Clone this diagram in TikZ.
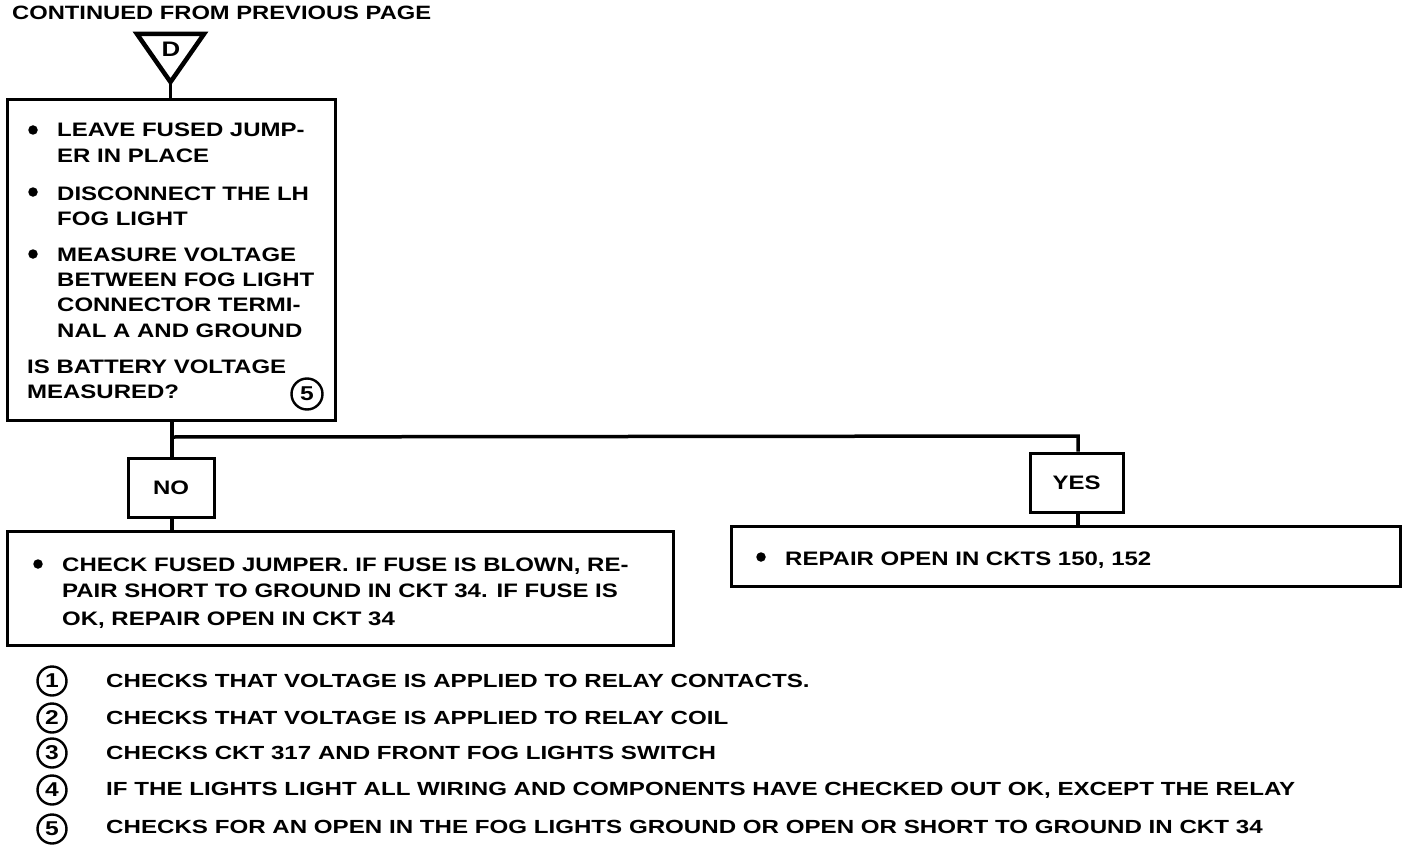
\documentclass[tikz,border=0pt]{standalone}
\usepackage{fontspec}
\setmainfont{Liberation Sans}
\newfontfamily\bxf{Liberation Sans Bold}[FakeStretch=1.23]
\newfontfamily\ntf{Liberation Sans Bold}[FakeStretch=1.27]
\begin{document}
\begin{tikzpicture}[x=1pt,y=-1pt,
  txt/.style={anchor=base west,inner sep=0pt,font=\bxf\fontsize{19.5}{24}\selectfont},
  note/.style={anchor=base west,inner sep=0pt,font=\ntf\fontsize{19}{24}\selectfont},
  boxl/.style={draw,line width=3pt},
  conn/.style={line width=3.5pt},
  bul/.style={circle,fill,inner sep=0pt,minimum size=9.5pt},
  num/.style={circle,draw,line width=2.4pt,inner sep=0pt,minimum size=29pt,font=\bxf\fontsize{20}{22}\selectfont}]
\useasboundingbox (0,0) rectangle (1408,848);

% title
\node[txt,font=\bxf\fontsize{19.3}{22}\selectfont] (title) at (12,20) {CONTINUED FROM PREVIOUS PAGE};

% off-page connector triangle
\coordinate (tl) at (137,34);
\coordinate (tr) at (204,34);
\coordinate (tap) at (170.5,82);
\draw[line width=4.5pt,line join=miter] (tl) -- (tr) -- (tap) -- cycle;
\node[inner sep=0pt,font=\bxf\fontsize{21}{22}\selectfont] (D) at (171,49) {D};

% main box
\node[boxl,minimum width=328pt,minimum height=321pt,inner sep=0pt] (main) at (171,260) {};
\draw[conn] (tap) -- (main.north -| tap);

\node[bul] (b1) at (33,130) {};
\node[txt] (m1) at (57,137) {LEAVE FUSED JUMP-};
\node[txt] (m2) at (57,163) {ER IN PLACE};
\node[bul] (b2) at (33,192) {};
\node[txt] (m3) at (57,200) {DISCONNECT THE LH};
\node[txt] (m4) at (57,225) {FOG LIGHT};
\node[bul] (b3) at (33,254) {};
\node[txt] (m5) at (57,261) {MEASURE VOLTAGE};
\node[txt] (m6) at (57,286) {BETWEEN FOG LIGHT};
\node[txt] (m7) at (57,311) {CONNECTOR TERMI-};
\node[txt] (m8) at (57,337) {NAL A AND GROUND};
\node[txt] (m9) at (27,373) {IS BATTERY VOLTAGE};
\node[txt] (m10) at (27,398) {MEASURED?};
\node[num,minimum size=31pt] (c5) at (307,394) {5};

% branch
\coordinate (split) at (172,437);
\coordinate (ycorner) at (1078,436);
\node[boxl,minimum width=86pt,minimum height=59pt,inner sep=0pt,font=\bxf\fontsize{19.5}{24}\selectfont] (no) at (171,488) {NO};
\node[boxl,minimum width=93pt,minimum height=59pt,inner sep=0pt,font=\bxf\fontsize{19.5}{24}\selectfont] (yes) at (1076.5,482.5) {YES};
\draw[conn] (main.south -| split) -- (split) -- (no.north -| split);
\draw[conn] (split) -- (ycorner) -- (yes.north -| ycorner);

% NO result
\node[boxl,minimum width=666pt,minimum height=114pt,inner sep=0pt] (nores) at (340,588) {};
\draw[conn] (no.south -| split) -- (nores.north -| split);
\node[bul] (b4) at (38,564) {};
\node[txt] (n1) at (62,571) {CHECK FUSED JUMPER. IF FUSE IS BLOWN, RE-};
\node[txt] (n2) at (62,597) {PAIR SHORT TO GROUND IN CKT 34. IF FUSE IS};
\node[txt] (n3) at (62,625) {OK, REPAIR OPEN IN CKT 34};

% YES result
\node[boxl,minimum width=669pt,minimum height=60pt,inner sep=0pt] (yesres) at (1065.5,556) {};
\draw[conn] (yes.south -| ycorner) -- (yesres.north -| ycorner);
\node[bul] (b5) at (761,557) {};
\node[txt] (y1) at (785,565) {REPAIR OPEN IN CKTS 150, 152};

% footnotes
\node[num] (f1) at (52,681) {1};
\node[note] (t1) at (106,687) {CHECKS THAT VOLTAGE IS APPLIED TO RELAY CONTACTS.};
\node[num] (f2) at (52,718) {2};
\node[note] (t2) at (106,724) {CHECKS THAT VOLTAGE IS APPLIED TO RELAY COIL};
\node[num] (f3) at (52,753) {3};
\node[note] (t3) at (106,759) {CHECKS CKT 317 AND FRONT FOG LIGHTS SWITCH};
\node[num] (f4) at (52,790) {4};
\node[note] (t4) at (106,795) {IF THE LIGHTS LIGHT ALL WIRING AND COMPONENTS HAVE CHECKED OUT OK, EXCEPT THE RELAY};
\node[num] (f5) at (52,829) {5};
\node[note] (t5) at (106,833) {CHECKS FOR AN OPEN IN THE FOG LIGHTS GROUND OR OPEN OR SHORT TO GROUND IN CKT 34};
\end{tikzpicture}
\end{document}
